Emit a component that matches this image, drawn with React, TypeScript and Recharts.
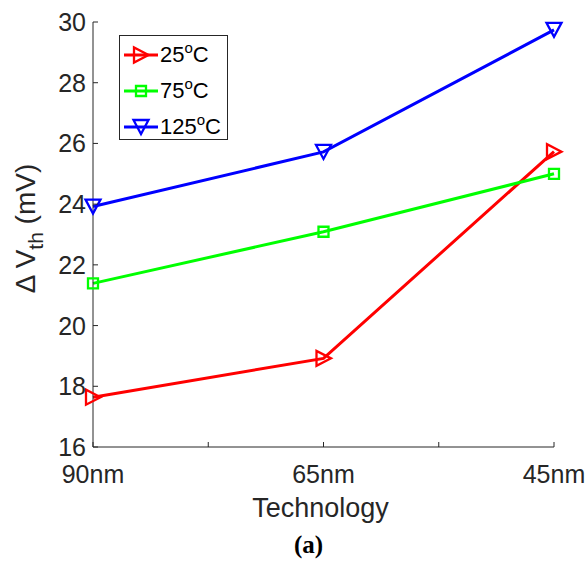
import React from 'react';
import { LineChart, Line, XAxis, YAxis, Legend } from 'recharts';

const categories = ['90nm', '65nm', '45nm'];
const temps = ['25', '75', '125'];
const values25 = [17.64, 18.92, 25.73];
const values75 = [21.39, 23.09, 25.0];
const values125 = [23.92, 25.72, 29.74];
const xTicks = [1, 1.5, 2, 2.5, 3];
const yTicks = [16, 18, 20, 22, 24, 26, 28, 30];

const colors = ['#FF0000', '#00FF00', '#0000FF'];
const shapes = ['right', 'square', 'down'];
const keys = ['t25', 't75', 't125'];

const data = categories.map((c, i) => ({
  x: i + 1,
  label: c,
  t25: values25[i],
  t75: values75[i],
  t125: values125[i],
}));

const FONT = '"Liberation Sans", Arial, Helvetica, sans-serif';
const AXIS = '#262626';
const TICK = 5;

function markerPath(shape: string, cx: number, cy: number) {
  if (shape === 'right') {
    return `M${cx - 7},${cy - 7.5}L${cx - 7},${cy + 7.5}L${cx + 7.5},${cy}Z`;
  }
  if (shape === 'down') {
    return `M${cx - 7.5},${cy - 7}L${cx + 7.5},${cy - 7}L${cx},${cy + 7}Z`;
  }
  return `M${cx - 5},${cy - 5}L${cx + 5},${cy - 5}L${cx + 5},${cy + 5}L${cx - 5},${cy + 5}Z`;
}

const makeDot = (shape: string, color: string) => (props: any) => {
  const { cx, cy, index } = props;
  if (cx == null || cy == null) return <g key={index} />;
  return (
    <path key={index} d={markerPath(shape, cx, cy)} fill="none" stroke={color} strokeWidth={2.3} strokeLinejoin="miter" />
  );
};

const BottomTick = (props: any) => {
  const { x, y, payload } = props;
  const v = payload.value;
  const isInt = Math.abs(v - Math.round(v)) < 1e-9;
  return (
    <g>
      <line x1={x} x2={x} y1={y} y2={y - TICK} stroke={AXIS} strokeWidth={1} />
      {isInt && (
        <text x={x} y={y + 36} textAnchor="middle" fill={AXIS} fontSize={25} fontFamily={FONT}>
          {categories[Math.round(v) - 1]}
        </text>
      )}
    </g>
  );
};

const TopTick = (props: any) => {
  const { x, y } = props;
  return <line x1={x} x2={x} y1={y} y2={y + TICK} stroke={AXIS} strokeWidth={1} />;
};

const LeftTick = (props: any) => {
  const { x, y, payload } = props;
  return (
    <g>
      <line x1={x} x2={x + TICK} y1={y} y2={y} stroke={AXIS} strokeWidth={1} />
      <text x={x - 7} y={y + 9} textAnchor="end" fill={AXIS} fontSize={25} fontFamily={FONT}>
        {payload.value}
      </text>
    </g>
  );
};

const RightTick = (props: any) => {
  const { x, y } = props;
  return <line x1={x} x2={x - TICK} y1={y} y2={y} stroke={AXIS} strokeWidth={1} />;
};

const XTitle = (props: any) => {
  const vb = props.viewBox || { x: 93, y: 447, width: 461, height: 114 };
  const cx = vb.x + vb.width / 2;
  return (
    <g>
      <text x={cx - 3} y={vb.y + 70} textAnchor="middle" fill={AXIS} fontSize={27} fontFamily={FONT}>
        Technology
      </text>
      <text
        x={cx - 15}
        y={vb.y + 106}
        textAnchor="middle"
        fill="#000"
        fontSize={25}
        fontWeight="bold"
        fontFamily='"Liberation Serif", "DejaVu Serif", serif'
      >
        (a)
      </text>
    </g>
  );
};

const YTitle = (props: any) => {
  const vb = props.viewBox || { x: 0, y: 22, width: 93, height: 425 };
  const cx = vb.x + 34.5;
  const cy = vb.y + vb.height / 2 - 6;
  return (
    <text
      x={cx}
      y={cy}
      textAnchor="middle"
      fill={AXIS}
      fontSize={28}
      fontFamily={FONT}
      transform={`rotate(-90 ${cx} ${cy})`}
    >
      {'\u0394 V'}
      <tspan fontSize={21} dy={8}>th</tspan>
      <tspan dy={-8}>{' (mV)'}</tspan>
    </text>
  );
};

const LegendBox = (props: any) => {
  const payload = [...(props.payload || [])].sort(
    (a: any, b: any) => keys.indexOf(a.dataKey) - keys.indexOf(b.dataKey)
  );
  return (
    <div
      style={{
        width: 109,
        height: 105,
        border: `1px solid ${AXIS}`,
        background: '#fff',
        boxSizing: 'border-box',
        paddingTop: 1,
        fontFamily: FONT,
      }}
    >
      {payload.map((p: any, i: number) => {
        const idx = keys.indexOf(p.dataKey);
        const color = colors[idx];
        return (
          <div key={i} style={{ display: 'flex', alignItems: 'center', height: 36 }}>
            <svg width={40} height={20} style={{ display: 'block', flex: 'none' }}>
              <line x1={4} x2={38} y1={10} y2={10} stroke={color} strokeWidth={3} />
              <path d={markerPath(shapes[idx], 21, 10)} fill="none" stroke={color} strokeWidth={2.3} />
            </svg>
            <span style={{ fontSize: 22, color: '#000', lineHeight: 1, whiteSpace: 'nowrap' }}>
              {p.value}
              <span style={{ fontSize: 15, position: 'relative', top: -9 }}>o</span>C
            </span>
          </div>
        );
      })}
    </div>
  );
};

export default function App() {
  return (
    <div style={{ position: 'absolute', left: 0, top: 0, width: 585, height: 561, background: '#fff' }}>
      <LineChart
        width={585}
        height={561}
        data={data}
        margin={{ top: 22, right: 31, bottom: 0, left: 0 }}
        style={{ fontFamily: FONT }}
      >
        <XAxis
          dataKey="x"
          type="number"
          domain={[1, 3]}
          ticks={xTicks}
          interval={0}
          height={114}
          tickSize={0}
          tickMargin={0}
          tickLine={false}
          axisLine={{ stroke: AXIS, strokeWidth: 1 }}
          tick={<BottomTick />}
          label={(p: any) => <XTitle {...p} />}
        />
        <XAxis
          xAxisId="top"
          orientation="top"
          type="number"
          domain={[1, 3]}
          allowDataOverflow
          ticks={xTicks}
          interval={0}
          height={0}
          tickSize={0}
          tickMargin={0}
          tickLine={false}
          axisLine={{ stroke: AXIS, strokeWidth: 1 }}
          tick={<TopTick />}
        />
        <YAxis
          type="number"
          domain={[16, 30]}
          ticks={yTicks}
          interval={0}
          width={93}
          tickSize={0}
          tickMargin={0}
          tickLine={false}
          axisLine={{ stroke: AXIS, strokeWidth: 1 }}
          tick={<LeftTick />}
          label={(p: any) => <YTitle {...p} />}
        />
        <YAxis
          yAxisId="right"
          orientation="right"
          type="number"
          domain={[16, 30]}
          allowDataOverflow
          ticks={yTicks}
          interval={0}
          width={0}
          tickSize={0}
          tickMargin={0}
          tickLine={false}
          axisLine={{ stroke: AXIS, strokeWidth: 1 }}
          tick={<RightTick />}
        />
        <Legend
          layout="horizontal"
          verticalAlign="middle"
          align="center"
          wrapperStyle={{ left: 119, top: 35, width: 109, height: 105 }}
          content={(p: any) => <LegendBox {...p} />}
        />
        {keys.map((k, i) => (
          <Line
            key={k}
            dataKey={k}
            name={temps[i]}
            stroke={colors[i]}
            strokeWidth={3}
            isAnimationActive={false}
            dot={makeDot(shapes[i], colors[i])}
            activeDot={false}
            type="linear"
          />
        ))}
      </LineChart>
    </div>
  );
}
